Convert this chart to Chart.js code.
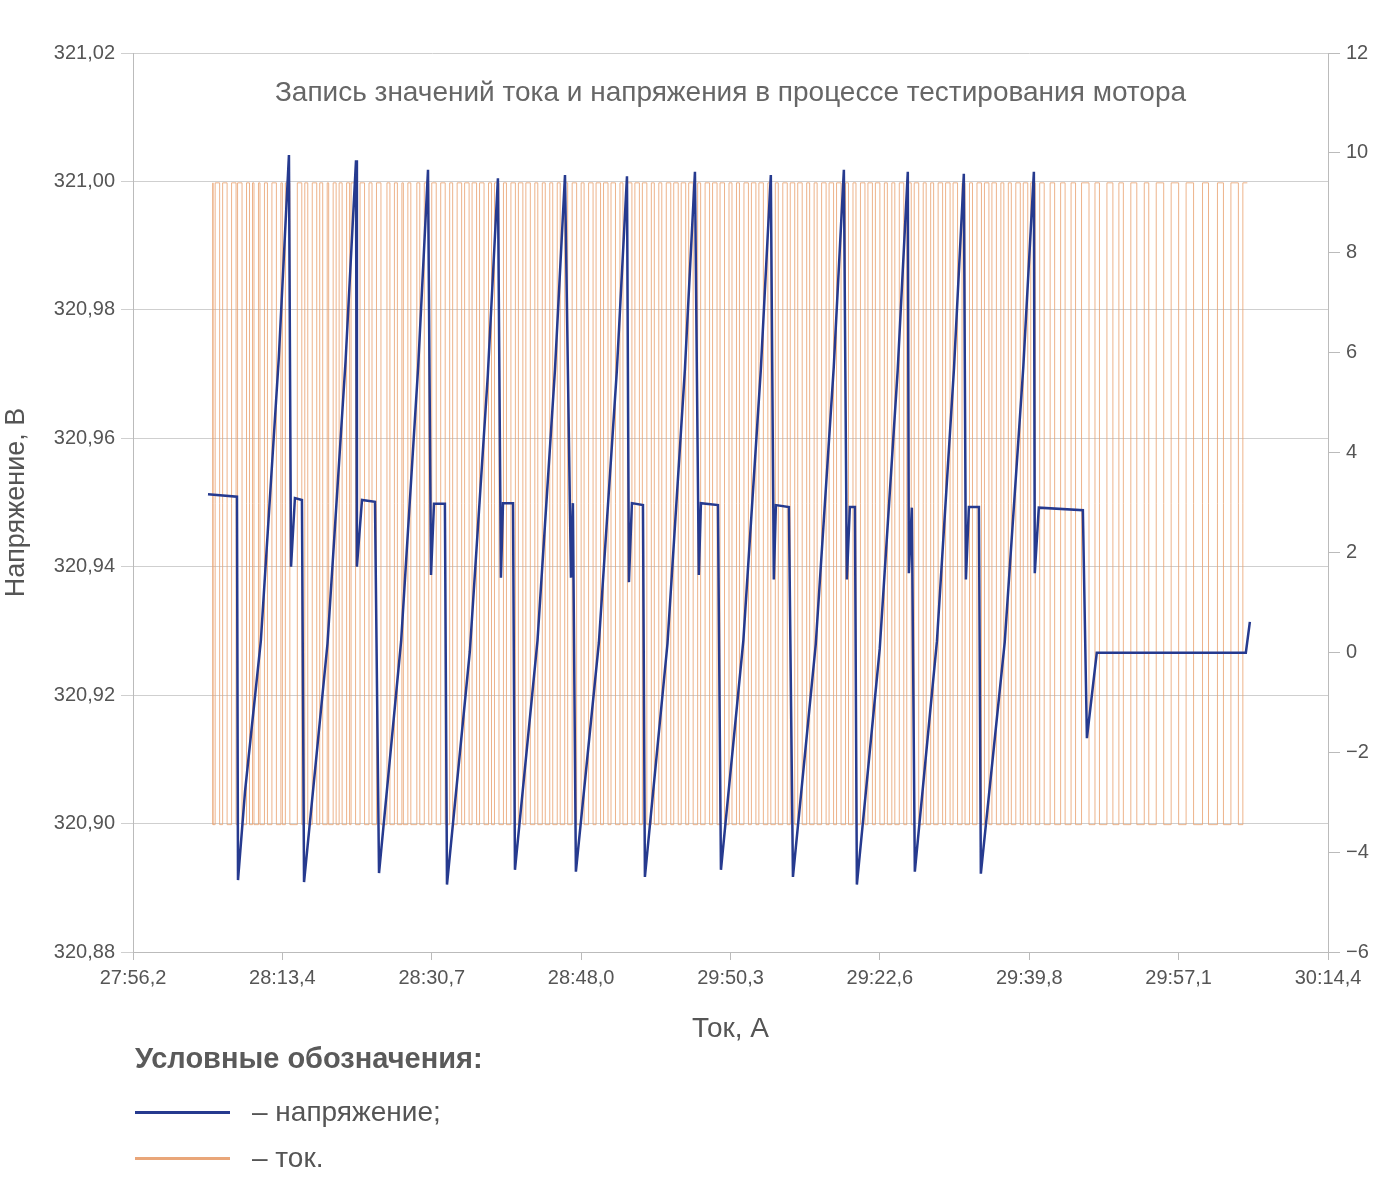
<!DOCTYPE html>
<html>
<head>
<meta charset="utf-8">
<script src="https://cdn.jsdelivr.net/npm/chart.js@4"></script>
<style>
	body { margin: 0; background: #fff; font-family: 'Liberation Sans Narrow', 'Liberation Sans', sans-serif; color: #555; }
	#wrap { position: relative; width: 1392px; height: 1050px; }
	#title { position: absolute; left: 133px; width: 1195px; top: 76px; text-align: center; font-size: 28px; color: #666; }
	#legend { position: absolute; left: 135px; top: 1042px; }
	#legend .head { font-weight: bold; font-size: 29px; color: #5a5a5a; margin-bottom: 14px; }
	#legend .row { display: flex; align-items: center; height: 46px; font-size: 28px; color: #555; }
	#legend .sw { width: 95px; height: 0; margin-right: 22px; }
</style>
</head>
<body>
<div id="wrap">
	<canvas id="chart" width="1392" height="1050"></canvas>
	<div id="title">Запись значений тока и напряжения в процессе тестирования мотора</div>
</div>
<div id="legend">
	<div class="head">Условные обозначения:</div>
	<div class="row"><div class="sw" style="border-top:3px solid #263a8f"></div>– напряжение;</div>
	<div class="row"><div class="sw" style="border-top:3px solid #e9a679"></div>– ток.</div>
</div>
<script>
const timeLabels = ['27:56,2', '28:13,4', '28:30,7', '28:48,0', '29:50,3', '29:22,6', '29:39,8', '29:57,1', '30:14,4'];

// voltage trace, x in tick-interval units
const voltageX = [0.502, 0.696, 0.703, 0.75, 0.856, 0.976, 1.044, 1.058, 1.084, 1.131, 1.145, 1.302, 1.423, 1.493, 1.499, 1.533, 1.62, 1.647,
	1.795, 1.909, 1.975, 1.995, 2.015, 2.088, 2.102, 2.255, 2.375, 2.443, 2.463, 2.477, 2.544, 2.557, 2.708, 2.825, 2.892, 2.932, 2.945, 2.965,
	3.119, 3.239, 3.307, 3.32, 3.34, 3.414, 3.427, 3.578, 3.695, 3.762, 3.788, 3.802, 3.916, 3.936, 4.086, 4.203, 4.27, 4.29, 4.304, 4.391, 4.418,
	4.571, 4.691, 4.759, 4.779, 4.799, 4.833, 4.846, 4.999, 5.119, 5.187, 5.194, 5.214, 5.234, 5.382, 5.496, 5.562, 5.576, 5.596, 5.663, 5.676,
	5.836, 5.96, 6.031, 6.037, 6.064, 6.359, 6.386, 6.452, 7.45, 7.477];
const voltageV = [320.9513, 320.9509, 320.8912, 320.9050, 320.9285, 320.9725, 321.0041, 320.9400, 320.9507, 320.9504, 320.8909, 320.9280, 320.9720, 321.0033, 320.9400, 320.9504, 320.9501, 320.8923,
	320.9284, 320.9711, 321.0018, 320.9387, 320.9498, 320.9498, 320.8905, 320.9268, 320.9697, 321.0005, 320.9383, 320.9499, 320.9499, 320.8928, 320.9285, 320.9707, 321.0010, 320.9383, 320.9499, 320.8925,
	320.9282, 320.9705, 321.0008, 320.9376, 320.9499, 320.9496, 320.8917, 320.9280, 320.9708, 321.0015, 320.9387, 320.9499, 320.9496, 320.8928, 320.9285, 320.9707, 321.0010, 320.9380, 320.9496, 320.9493, 320.8917,
	320.9280, 320.9710, 321.0018, 320.9380, 320.9493, 320.9493, 320.8905, 320.9272, 320.9705, 321.0015, 320.9390, 320.9492, 320.8925, 320.9284, 320.9708, 321.0012, 320.9380, 320.9493, 320.9493, 320.8922,
	320.9283, 320.9710, 321.0015, 320.9390, 320.9492, 320.9488, 320.9133, 320.9266, 320.9266, 320.9314];

// current switching instants, alternating between the two levels
const currentEdges = [0.535, 0.55, 0.58, 0.6, 0.63, 0.66, 0.69, 0.7, 0.73, 0.76, 0.78, 0.8, 0.81, 0.84, 0.85, 0.88, 0.9, 0.93, 0.96, 0.99, 1.0, 1.02, 1.05, 1.1,
	1.13, 1.15, 1.17, 1.2, 1.23, 1.25, 1.27, 1.3, 1.31, 1.34, 1.36, 1.38, 1.4, 1.43, 1.45, 1.46, 1.49, 1.52, 1.55, 1.58, 1.6, 1.63, 1.66, 1.7, 1.72, 1.75,
	1.77, 1.8, 1.81, 1.84, 1.86, 1.9, 1.92, 1.95, 1.98, 2.0, 2.03, 2.06, 2.09, 2.12, 2.14, 2.17, 2.2, 2.22, 2.25, 2.27, 2.3, 2.32, 2.35, 2.38, 2.4, 2.42,
	2.45, 2.48, 2.5, 2.53, 2.56, 2.58, 2.61, 2.63, 2.66, 2.69, 2.71, 2.74, 2.76, 2.79, 2.81, 2.84, 2.86, 2.89, 2.91, 2.94, 2.97, 3.0, 3.02, 3.05, 3.08,
	3.1, 3.13, 3.15, 3.18, 3.2, 3.23, 3.26, 3.28, 3.31, 3.34, 3.36, 3.39, 3.41, 3.44, 3.47, 3.49, 3.52, 3.54, 3.57, 3.6, 3.62, 3.65, 3.67, 3.7, 3.72,
	3.75, 3.78, 3.8, 3.83, 3.86, 3.88, 3.91, 3.93, 3.96, 3.99, 4.01, 4.04, 4.06, 4.09, 4.12, 4.14, 4.17, 4.19, 4.22, 4.25, 4.27, 4.3, 4.32, 4.35, 4.38,
	4.4, 4.43, 4.45, 4.48, 4.51, 4.53, 4.56, 4.58, 4.61, 4.64, 4.66, 4.69, 4.71, 4.74, 4.77, 4.79, 4.82, 4.84, 4.87, 4.9, 4.92, 4.95, 4.97, 5.0, 5.03,
	5.05, 5.08, 5.1, 5.13, 5.16, 5.18, 5.21, 5.23, 5.26, 5.29, 5.31, 5.34, 5.36, 5.39, 5.42, 5.44, 5.47, 5.49, 5.52, 5.55, 5.57, 5.6, 5.62, 5.65, 5.68,
	5.7, 5.73, 5.75, 5.78, 5.81, 5.83, 5.86, 5.88, 5.91, 5.94, 5.96, 5.99, 6.01, 6.04, 6.07, 6.1, 6.14, 6.17, 6.21, 6.24, 6.28, 6.31, 6.35, 6.4, 6.44,
	6.47, 6.52, 6.56, 6.6, 6.63, 6.68, 6.72, 6.77, 6.8, 6.85, 6.9, 6.95, 7.0, 7.05, 7.1, 7.16, 7.2, 7.26, 7.3, 7.35, 7.4, 7.43, 7.46];
const currentHigh = 9.4;
const currentLow = -3.45;

const fontFamily = "'Liberation Sans Narrow', 'Liberation Sans', sans-serif";
const grey = '#555';

function createChart() {
	const voltage = voltageX.map((x, i) => ({ x: x, y: voltageV[i] }));
	const current = currentEdges.map((x, i) => ({ x: x, y: i % 2 ? currentLow : currentHigh }));
	current.unshift({ x: currentEdges[0], y: currentLow });

	new Chart(document.getElementById('chart').getContext('2d'), {
		type: 'line',
		data: {
			datasets: [
				{ label: 'напряжение', data: voltage, yAxisID: 'y', borderColor: '#263a8f', borderWidth: 2.5, pointRadius: 0, order: 0 },
				{ label: 'ток', data: current, yAxisID: 'y2', borderColor: 'rgba(232, 160, 110, 0.8)', borderWidth: 1, pointRadius: 0, stepped: 'after', order: 1 },
			],
		},
		options: {
			responsive: false,
			animation: false,
			layout: { padding: { top: 53, left: 0, right: 0 } },
			plugins: { legend: { display: false }, tooltip: { enabled: false } },
			scales: {
				x: {
					type: 'linear',
					min: 0,
					max: 8,
					afterFit: (s) => { s.height = 98; },
					ticks: { stepSize: 1, color: grey, font: { family: fontFamily, size: 20 }, padding: 6, callback: (v) => timeLabels[v] },
					grid: { drawOnChartArea: false, color: '#bbb', tickLength: 8 },
					border: { color: '#bbb' },
					title: { display: true, text: 'Ток, А', color: grey, font: { family: fontFamily, size: 28 }, padding: { top: 14 } },
				},
				y: {
					position: 'left',
					min: 320.88,
					max: 321.02,
					afterFit: (s) => { s.width = 133; },
					ticks: { stepSize: 0.02, color: grey, font: { family: fontFamily, size: 20 }, padding: 6, callback: (v) => v.toFixed(2).replace('.', ',') },
					grid: { color: '#cfcfcf', tickLength: 12 },
					border: { color: '#bbb' },
					title: { display: true, text: 'Напряжение, В', color: grey, font: { family: fontFamily, size: 27 }, padding: 0 },
				},
				y2: {
					position: 'right',
					min: -6,
					max: 12,
					afterFit: (s) => { s.width = 64; },
					ticks: { stepSize: 2, color: grey, font: { family: fontFamily, size: 20 }, padding: 6, callback: (v) => String(v).replace('-', '−') },
					grid: { drawOnChartArea: false, color: '#bbb', tickLength: 12 },
					border: { color: '#bbb' },
				},
			},
		},
	});
}

createChart();
</script>
</body>
</html>
